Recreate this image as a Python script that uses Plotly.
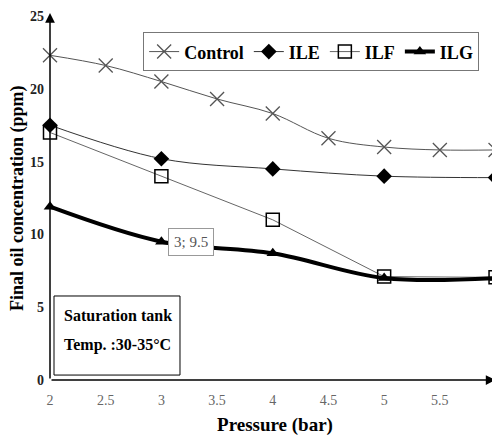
import plotly.graph_objects as go

pressure_ctrl = [2, 2.5, 3, 3.5, 4, 4.5, 5, 5.5, 6]
control = [22.3, 21.6, 20.5, 19.3, 18.3, 16.6, 16.0, 15.8, 15.8]
pressure = [2, 3, 4, 5, 6]
ile = [17.5, 15.2, 14.5, 14.0, 13.9]
ilf = [17.0, 14.0, 11.0, 7.1, 7.05]
ilg = [11.9, 9.5, 8.7, 7.0, 7.0]
x_ticks = [2, 2.5, 3, 3.5, 4, 4.5, 5, 5.5, 6]
y_ticks = [0, 5, 10, 15, 20, 25]

FONT = "Liberation Serif"

fig = go.Figure()
fig.add_trace(go.Scatter(x=pressure_ctrl, y=control, name="<b>Control</b>", mode="lines+markers",
                         line=dict(color="#555", width=1, shape="spline"),
                         marker=dict(symbol="x-thin-open", size=14, line=dict(color="#222", width=1.3)),
                         cliponaxis=False))
fig.add_trace(go.Scatter(x=pressure, y=ile, name="<b>ILE</b>", mode="lines+markers",
                         line=dict(color="#333", width=1, shape="spline"),
                         marker=dict(symbol="diamond", size=12, color="black"),
                         cliponaxis=False))
fig.add_trace(go.Scatter(x=pressure, y=ilf, name="<b>ILF</b>", mode="lines+markers",
                         line=dict(color="#666", width=1),
                         marker=dict(symbol="square-open", size=13, color="black", line=dict(width=1.5)),
                         cliponaxis=False))
fig.add_trace(go.Scatter(x=pressure, y=ilg, name="<b>ILG</b>", mode="lines+markers",
                         line=dict(color="black", width=4, shape="spline"),
                         marker=dict(symbol="triangle-up", size=11, color="black"),
                         cliponaxis=False))

anns = []
# axis arrows
anns.append(dict(x=2, y=25.2, ax=2, ay=0, xref="x", yref="y", axref="x", ayref="y",
                 showarrow=True, arrowhead=2, arrowsize=1.3, arrowwidth=1.5, arrowcolor="black", text=""))
anns.append(dict(x=6.0, y=0, ax=2, ay=0, xref="x", yref="y", axref="x", ayref="y",
                 showarrow=True, arrowhead=2, arrowsize=1.3, arrowwidth=1.5, arrowcolor="black", text=""))
anns.append(dict(x=3.27, y=9.5, xref="x", yref="y", text="3; 9.5", showarrow=False,
                 font=dict(family=FONT, size=15, color="#555"),
                 bordercolor="#999", borderwidth=1, bgcolor="white", borderpad=5))
anns.append(dict(x=2.108, y=4.4, xref="x", yref="y", xanchor="left",
                 text="<b>Saturation tank</b>", showarrow=False,
                 font=dict(family=FONT, size=16, color="black")))
anns.append(dict(x=2.108, y=2.4, xref="x", yref="y", xanchor="left",
                 text="<b>Temp. :30-35°C</b>", showarrow=False,
                 font=dict(family=FONT, size=16, color="black")))
anns.append(dict(x=-33 / 450, y=0.5, xref="paper", yref="paper", xanchor="center", yanchor="middle",
                 text="<b>Final oil concentration (ppm)</b>", textangle=-90, showarrow=False,
                 font=dict(family=FONT, size=18, color="black")))

fig.update_layout(
    width=500, height=439,
    margin=dict(l=42, r=8, t=8, b=67),
    paper_bgcolor="white", plot_bgcolor="white",
    font=dict(family=FONT, color="black"),
    showlegend=True,
    annotations=anns,
    shapes=[dict(type="rect", xref="x", yref="y", x0=2.036, x1=3.167, y0=0.34, y1=5.77,
                 line=dict(color="black", width=1), fillcolor="white", layer="below")],
    legend=dict(orientation="h", x=0.207, y=0.955, xanchor="left", yanchor="top",
                bordercolor="#777", borderwidth=1, bgcolor="white",
                font=dict(family=FONT, size=18, color="black"),
                itemwidth=30, tracegroupgap=0),
    xaxis=dict(range=[2, 6.04], tickvals=x_ticks, ticktext=[str(v) for v in x_ticks],
               showgrid=False, zeroline=False, showline=False, ticks="", automargin=False,
               ticklabeloverflow="allow", ticklabelstandoff=10,
               tickfont=dict(family=FONT, size=14, color="#666"),
               title=dict(text="<b>Pressure (bar)</b>", font=dict(family=FONT, size=19, color="black"),
                          standoff=10)),
    yaxis=dict(range=[0, 25], tickvals=y_ticks, ticktext=[f"<b>{v}</b>" for v in y_ticks],
               showgrid=False, zeroline=False, showline=False,
               ticks="", automargin=False, tickfont=dict(family=FONT, size=14, color="#222"),
               ticklabelstandoff=5),
)

fig.write_html("out.html")
